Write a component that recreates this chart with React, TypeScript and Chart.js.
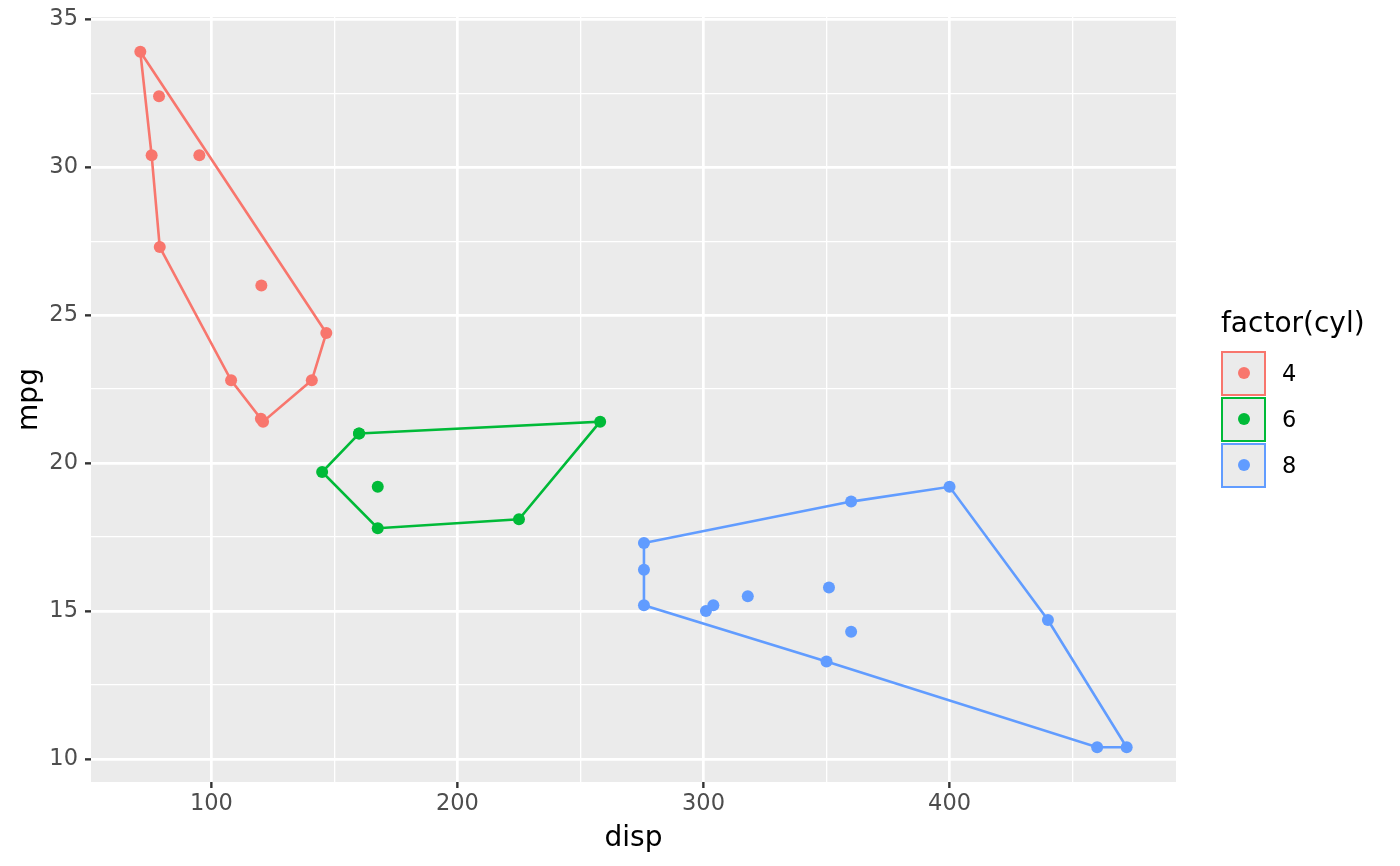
import React, { useRef, useEffect } from "react";
import { Chart, registerables } from "chart.js";

Chart.register(...registerables);

// mtcars: disp / mpg by number of cylinders
const disp4 = [108, 146.7, 140.8, 78.7, 75.7, 71.1, 120.1, 79, 120.3, 95.1, 121];
const mpg4 = [22.8, 24.4, 22.8, 32.4, 30.4, 33.9, 21.5, 27.3, 26.0, 30.4, 21.4];
const disp6 = [160, 160, 258, 225, 167.6, 167.6, 145];
const mpg6 = [21.0, 21.0, 21.4, 18.1, 19.2, 17.8, 19.7];
const disp8 = [360, 360, 275.8, 275.8, 275.8, 472, 460, 440, 318, 304, 350, 400, 351, 301];
const mpg8 = [18.7, 14.3, 16.4, 17.3, 15.2, 10.4, 10.4, 14.7, 15.5, 15.2, 13.3, 19.2, 15.8, 15.0];

// convex hull vertices (closed)
const hull4x = [71.1, 146.7, 140.8, 121, 120.1, 108, 79, 75.7, 71.1];
const hull4y = [33.9, 24.4, 22.8, 21.4, 21.5, 22.8, 27.3, 30.4, 33.9];
const hull6x = [160, 258, 225, 167.6, 145, 160];
const hull6y = [21.0, 21.4, 18.1, 17.8, 19.7, 21.0];
const hull8x = [275.8, 360, 400, 440, 472, 460, 350, 275.8, 275.8, 275.8];
const hull8y = [17.3, 18.7, 19.2, 14.7, 10.4, 10.4, 13.3, 15.2, 16.4, 17.3];

const groups = ["4", "6", "8"];
const colors = ["#F8766D", "#00BA38", "#619CFF"];
const xTicks = [100, 150, 200, 250, 300, 350, 400, 450];
const yTicks = [10, 12.5, 15, 17.5, 20, 22.5, 25, 27.5, 30, 32.5, 35];

const zip = (xs: number[], ys: number[]) => xs.map((x, i) => ({ x, y: ys[i] }));

const FONT = "'DejaVu Sans', sans-serif";

const panelBg = {
  id: "panelBg",
  beforeDraw(chart: any) {
    const { ctx, chartArea } = chart;
    ctx.save();
    ctx.fillStyle = "#EBEBEB";
    ctx.fillRect(chartArea.left, chartArea.top, chartArea.right - chartArea.left, chartArea.bottom - chartArea.top);
    ctx.restore();
  },
};

export default function App() {
  const chartRef = useRef<HTMLCanvasElement>(null);

  useEffect(() => {
    if (!chartRef.current) return;
    const pts = [zip(disp4, mpg4), zip(disp6, mpg6), zip(disp8, mpg8)];
    const hulls = [zip(hull4x, hull4y), zip(hull6x, hull6y), zip(hull8x, hull8y)];
    const datasets: any[] = [];
    groups.forEach((g, i) => {
      datasets.push({
        label: g + " hull",
        data: hulls[i],
        showLine: true,
        borderColor: colors[i],
        borderWidth: 2.6,
        pointRadius: 0,
        fill: false,
        tension: 0,
      });
      datasets.push({
        label: g,
        data: pts[i],
        showLine: false,
        backgroundColor: colors[i],
        borderColor: colors[i],
        pointRadius: 6,
        pointBorderWidth: 0,
      });
    });

    const grid = (isMajor: (v: number) => boolean) => ({
      color: "#FFFFFF",
      lineWidth: (c: any) => (isMajor(c.tick.value) ? 2.7 : 1.3),
      tickColor: (c: any) => (isMajor(c.tick.value) ? "#333333" : "rgba(0,0,0,0)"),
      tickWidth: 2.4,
      tickLength: 6,
      drawTicks: true,
    });

    const chart = new Chart(chartRef.current, {
      type: "scatter",
      data: { datasets },
      options: {
        animation: false,
        responsive: true,
        maintainAspectRatio: false,
        layout: { padding: { left: 0, top: 17, right: 224, bottom: 0 } },
        plugins: { legend: { display: false }, tooltip: { enabled: false } },
        scales: {
          x: {
            type: "linear",
            min: 51.055,
            max: 492.045,
            border: { display: false },
            grid: grid((v) => v % 100 === 0),
            afterBuildTicks: (s: any) => {
              s.ticks = xTicks.map((value) => ({ value }));
            },
            afterFit: (s: any) => {
              s.height = 84;
              s.paddingLeft = 0;
              s.paddingRight = 0;
            },
            ticks: {
              color: "#4D4D4D",
              font: { family: FONT, size: 22.5 },
              padding: 3,
              maxRotation: 0,
              autoSkip: false,
              callback: (v: any) => (Number(v) % 100 === 0 ? String(v) : ""),
            },
            title: {
              display: true,
              text: "disp",
              color: "#000000",
              font: { family: FONT, size: 28 },
              padding: { top: 0, bottom: 10 },
            },
          },
          y: {
            type: "linear",
            min: 9.225,
            max: 35.075,
            border: { display: false },
            grid: grid((v) => v % 5 === 0),
            afterBuildTicks: (s: any) => {
              s.ticks = yTicks.map((value) => ({ value }));
            },
            afterFit: (s: any) => {
              s.width = 91;
              s.paddingTop = 0;
              s.paddingBottom = 0;
            },
            ticks: {
              color: "#4D4D4D",
              font: { family: FONT, size: 22.5 },
              padding: 7,
              autoSkip: false,
              callback: (v: any) => (Number(v) % 5 === 0 ? String(v) : ""),
            },
            title: {
              display: true,
              text: "mpg",
              color: "#000000",
              font: { family: FONT, size: 28 },
              padding: { top: 13, bottom: 0 },
            },
          },
        },
      },
      plugins: [panelBg],
    });

    return () => {
      chart.destroy();
    };
  }, []);

  return (
    <div style={{ position: "fixed", left: 0, top: 0, width: 1400, height: 866, background: "#FFFFFF" }}>
      <canvas ref={chartRef} />
      <div style={{ position: "absolute", left: 1221, top: 306, fontFamily: FONT, color: "#000000" }}>
        <div style={{ fontSize: 28, lineHeight: "34px", marginBottom: 10, whiteSpace: "nowrap" }}>factor(cyl)</div>
        {groups.map((g, i) => (
          <div key={g} style={{ display: "flex", alignItems: "center", height: 46 }}>
            <div
              style={{
                width: 41,
                height: 41,
                border: `2.4px solid ${colors[i]}`,
                background: "#EBEBEB",
                display: "flex",
                alignItems: "center",
                justifyContent: "center",
              }}
            >
              <div style={{ width: 12, height: 12, borderRadius: "50%", background: colors[i] }} />
            </div>
            <div style={{ fontSize: 22.5, marginLeft: 16 }}>{g}</div>
          </div>
        ))}
      </div>
    </div>
  );
}
